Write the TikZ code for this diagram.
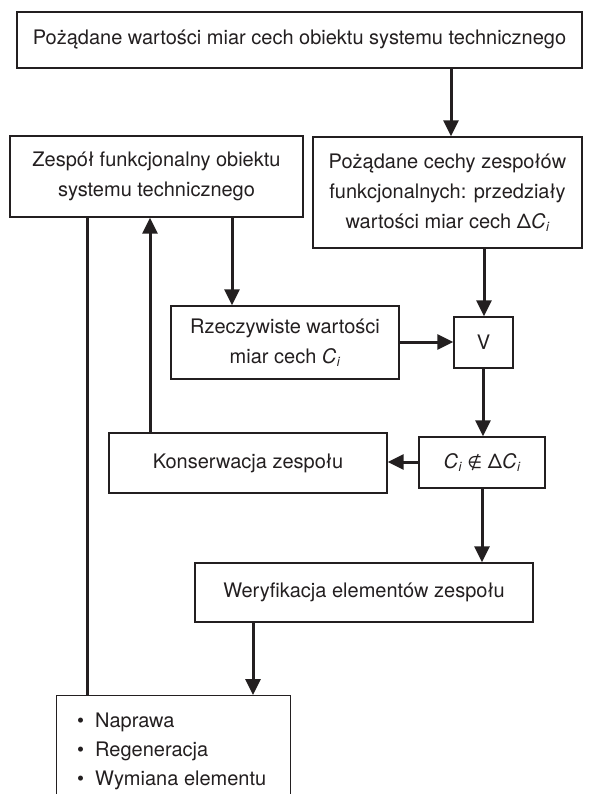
\documentclass[tikz,border=0pt]{standalone}
\usepackage{fontspec}
\setmainfont{TeX Gyre Heros}
\newfontfamily\dejavu{DejaVu Sans}
\usetikzlibrary{arrows.meta}
\definecolor{ink}{HTML}{231F20}
\newcommand\myCi{\textit{C}\kern0.5pt\raisebox{-3pt}{\fontsize{13}{13}\selectfont\textit{i}}}
\begin{document}
\begin{tikzpicture}[x=1pt,y=-1pt,
  box/.style={draw=ink, line width=1.3pt, align=center, inner sep=0pt,
    text=ink, font=\fontsize{20}{30}\selectfont},
  txt/.style={inner sep=0pt, text=ink, font=\fontsize{20}{30}\selectfont},
  arr/.style={line width=3pt, draw=ink, -{Triangle[width=15pt,length=16pt]}},
  ln/.style={line width=3pt, draw=ink}]
\clip (0,0) rectangle (598,794);
\fill[white] (0,0) rectangle (598,794);
% boxes
\node[box, minimum width=565pt, minimum height=56pt] (top) at (299.5,40)
  {Pożądane wartości miar cech obiektu systemu technicznego};
\node[box, minimum width=293pt, minimum height=81pt] (zf) at (156.5,176.5)
  {Zespół funkcjonalny obiektu\\systemu technicznego};
\node[box, minimum width=269pt, minimum height=111pt] (pc) at (447.5,192.5)
  {Pożądane cechy zespołów\\funkcjonalnych: przedziały\\wartości miar cech Δ\myCi};
\node[box, minimum width=228pt, minimum height=73pt] (rz) at (285,342.5)
  {Rzeczywiste wartości\\miar cech \myCi};
\node[box, minimum width=59pt, minimum height=51pt] (v) at (483.5,342.5) {V};
\node[box, minimum width=278pt, minimum height=60pt] (kon) at (248,463)
  {Konserwacja zespołu};
\node[box, minimum width=126pt, minimum height=51pt] (ci) at (482,462.5)
  {\myCi\ {\dejavu\fontsize{17}{17}\selectfont ∉}\ Δ\myCi};
\node[box, minimum width=338pt, minimum height=59pt] (wer) at (364,592.5)
  {Weryfikacja elementów zespołu};
\node[box, anchor=north west, minimum width=234pt, minimum height=130pt] (bot) at (56,695) {};
\node[txt, anchor=base west] (l1) at (77,727) {\makebox[18pt][l]{•}Naprawa};
\node[txt, anchor=base west] (l2) at (77,756) {\makebox[18pt][l]{•}Regeneracja};
\node[txt, anchor=base west] (l3) at (77,785) {\makebox[18pt][l]{•}Wymiana elementu};
% helper x positions
\coordinate (xa) at (451,0);
\coordinate (xb) at (232,0);
\coordinate (xc) at (150,0);
\coordinate (xd) at (87,0);
\coordinate (xe) at (484,0);
\coordinate (xf) at (483,0);
\coordinate (xg) at (482,0);
\coordinate (xh) at (253,0);
\coordinate (ya) at (0,342);
\coordinate (yb) at (0,462);
% connectors
\draw[arr] (top.south -| xa) -- (pc.north -| xa);
\draw[arr] (zf.south -| xb) -- (rz.north -| xb);
\draw[arr] (kon.north -| xc) -- (zf.south -| xc);
\draw[ln] (zf.south -| xd) -- (bot.north -| xd);
\draw[arr] (pc.south -| xe) -- (v.north -| xe);
\draw[arr] (rz.east |- ya) -- (v.west |- ya);
\draw[arr] (v.south -| xf) -- (ci.north -| xf);
\draw[arr] (ci.west |- yb) -- (kon.east |- yb);
\draw[arr] (ci.south -| xg) -- (wer.north -| xg);
\draw[arr] (wer.south -| xh) -- (bot.north -| xh);
\end{tikzpicture}
\end{document}
